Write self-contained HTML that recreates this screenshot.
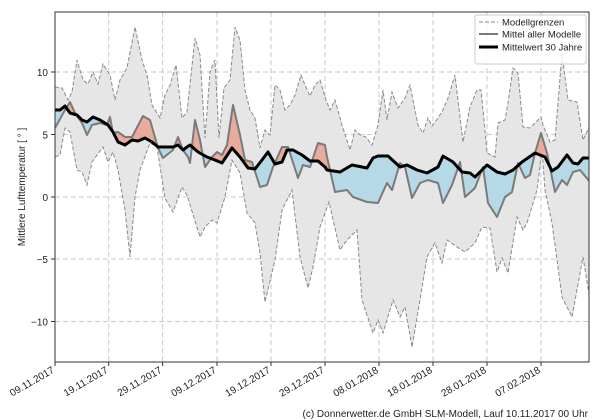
<!DOCTYPE html>
<html><head><meta charset="utf-8"><style>
html,body{margin:0;padding:0;background:#fff;}
svg{display:block;font-family:"Liberation Sans","DejaVu Sans",sans-serif;}
</style></head><body>
<svg width="600" height="420" viewBox="0 0 600 420" xmlns="http://www.w3.org/2000/svg">
<defs>
<clipPath id="plot"><rect x="55" y="12" width="534" height="350"/></clipPath>
<clipPath id="aboveBlack"><polygon id="pA" points="55,0 55,110 60,110 65,106 70,113 77,115 82,120 87,122 93,117 100,120 108,125 113,132 118,142 125,145 132,140 138,141 145,138 152,142 158,147 165,147 173,147 178,145 183,150 187,147 190,145 198,152 207,157 215,160 222,163 232,148 240,157 248,168 255,169 262,160 268,152 275,164 282,162 287,150 293,150 302,155 310,161 318,161 325,167 327,170 340,172 352,165 367,168 373,158 378,156 388,156 400,167 407,165 417,170 427,173 438,167 443,156 453,162 462,172 470,173 475,177 487,165 497,172 505,174 513,170 522,162 535,153 545,157 552,171 558,167 567,155 573,163 578,164 583,158 590,158 590,0"/></clipPath>
<clipPath id="belowBlack"><polygon points="55,420 55,110 60,110 65,106 70,113 77,115 82,120 87,122 93,117 100,120 108,125 113,132 118,142 125,145 132,140 138,141 145,138 152,142 158,147 165,147 173,147 178,145 183,150 187,147 190,145 198,152 207,157 215,160 222,163 232,148 240,157 248,168 255,169 262,160 268,152 275,164 282,162 287,150 293,150 302,155 310,161 318,161 325,167 327,170 340,172 352,165 367,168 373,158 378,156 388,156 400,167 407,165 417,170 427,173 438,167 443,156 453,162 462,172 470,173 475,177 487,165 497,172 505,174 513,170 522,162 535,153 545,157 552,171 558,167 567,155 573,163 578,164 583,158 590,158 590,420"/></clipPath>
</defs>

<!-- grid -->
<g stroke="#c8c8c8" stroke-width="1" stroke-dasharray="5,3">
<line x1="55" y1="72" x2="589" y2="72"/><line x1="55" y1="134.5" x2="589" y2="134.5"/><line x1="55" y1="197" x2="589" y2="197"/><line x1="55" y1="259" x2="589" y2="259"/><line x1="55" y1="321.5" x2="589" y2="321.5"/>
<line x1="108.7" y1="12" x2="108.7" y2="362"/><line x1="162.6" y1="12" x2="162.6" y2="362"/><line x1="217" y1="12" x2="217" y2="362"/><line x1="271" y1="12" x2="271" y2="362"/><line x1="325" y1="12" x2="325" y2="362"/><line x1="379" y1="12" x2="379" y2="362"/><line x1="433" y1="12" x2="433" y2="362"/><line x1="487" y1="12" x2="487" y2="362"/><line x1="541" y1="12" x2="541" y2="362"/>
</g>

<g clip-path="url(#plot)">
<!-- band -->
<polygon fill="#e3e3e3" fill-opacity="0.9" points="55,87 62,88 68,100 72,92 77,60 83,80 88,84 93,72 98,84 103,64 110,75 115,100 120,80 127,68 135,27 142,60 147,75 152,105 160,118 165,95 170,85 176,65 182,118 187,112 195,38 200,55 205,138 210,72 215,60 219,138 224,88 230,80 235,27 240,40 245,90 250,110 255,118 260,148 265,130 270,135 275,85 280,90 285,110 290,105 295,95 301,75 305,85 310,96 315,85 320,80 326,100 330,110 335,100 342,125 350,150 355,130 360,135 366,137 372,145 378,125 383,90 387,120 392,92 398,108 405,98 410,85 418,125 423,133 428,118 432,126 438,118 443,110 448,98 455,75 463,142 470,107 477,90 481,90 484,120 487,153 495,157 498,123 505,120 508,103 513,68 518,73 523,127 530,128 535,123 541,117 543,125 550,142 555,140 562,53 568,100 577,102 583,140 590,125 590,300 583,257 572,317 562,297 552,223 545,190 542,150 537,190 527,223 523,230 517,217 508,273 502,258 497,272 490,228 482,227 475,243 465,252 457,247 447,240 442,263 435,243 427,257 420,300 412,347 405,307 400,317 393,300 383,333 378,320 373,333 362,300 357,230 347,240 340,250 329,202 320,227 313,267 308,288 300,257 292,190 282,210 275,260 265,302 260,253 255,223 247,213 240,173 232,160 225,197 217,223 212,220 205,227 200,237 187,195 182,187 173,212 165,198 157,147 150,143 140,170 135,197 130,257 125,210 118,170 113,152 108,162 103,147 92,162 87,185 82,172 77,170 70,132 65,128 60,155 55,157"/>
<!-- dashed bounds -->
<polyline fill="none" stroke="#8a8a8a" stroke-width="1" stroke-dasharray="4,2" points="55,87 62,88 68,100 72,92 77,60 83,80 88,84 93,72 98,84 103,64 110,75 115,100 120,80 127,68 135,27 142,60 147,75 152,105 160,118 165,95 170,85 176,65 182,118 187,112 195,38 200,55 205,138 210,72 215,60 219,138 224,88 230,80 235,27 240,40 245,90 250,110 255,118 260,148 265,130 270,135 275,85 280,90 285,110 290,105 295,95 301,75 305,85 310,96 315,85 320,80 326,100 330,110 335,100 342,125 350,150 355,130 360,135 366,137 372,145 378,125 383,90 387,120 392,92 398,108 405,98 410,85 418,125 423,133 428,118 432,126 438,118 443,110 448,98 455,75 463,142 470,107 477,90 481,90 484,120 487,153 495,157 498,123 505,120 508,103 513,68 518,73 523,127 530,128 535,123 541,117 543,125 550,142 555,140 562,53 568,100 577,102 583,140 590,125"/>
<polyline fill="none" stroke="#8a8a8a" stroke-width="1" stroke-dasharray="4,2" points="55,157 60,155 65,128 70,132 77,170 82,172 87,185 92,162 103,147 108,162 113,152 118,170 125,210 130,257 135,197 140,170 150,143 157,147 165,198 173,212 182,187 187,195 200,237 205,227 212,220 217,223 225,197 232,160 240,173 247,213 255,223 260,253 265,302 275,260 282,210 292,190 300,257 308,288 313,267 320,227 329,202 340,250 347,240 357,230 362,300 373,333 378,320 383,333 393,300 400,317 405,307 412,347 420,300 427,257 435,243 442,263 447,240 457,247 465,252 475,243 482,227 490,228 497,272 502,258 508,273 517,217 523,230 527,223 537,190 542,150 545,190 552,223 562,297 572,317 583,257 590,300"/>

<!-- red fill: below gray line, above black -->
<polygon clip-path="url(#aboveBlack)" fill="#e9ab9b" points="55,420 55,128 65,110 70,102 75,113 82,123 87,135 92,125 100,123 107,125 110,117 113,133 118,132 125,137 132,137 143,116 150,120 158,148 163,158 173,150 178,137 183,150 188,157 190,163 195,120 200,140 205,167 212,157 217,152 222,155 227,145 233,105 240,135 245,160 252,162 260,187 267,185 273,167 282,147 288,147 298,178 303,165 310,167 318,143 325,145 327,157 335,192 347,190 353,197 367,202 378,203 387,183 392,190 400,163 405,167 412,198 420,183 428,180 438,183 443,203 452,185 460,162 465,197 475,188 483,167 488,203 497,217 505,197 512,192 518,163 525,178 530,175 535,153 541,133 547,153 555,192 562,180 567,185 573,172 580,170 590,182 590,420"/>
<!-- blue fill -->
<polygon clip-path="url(#belowBlack)" fill="#b6d9e8" points="55,0 55,128 65,110 70,102 75,113 82,123 87,135 92,125 100,123 107,125 110,117 113,133 118,132 125,137 132,137 143,116 150,120 158,148 163,158 173,150 178,137 183,150 188,157 190,163 195,120 200,140 205,167 212,157 217,152 222,155 227,145 233,105 240,135 245,160 252,162 260,187 267,185 273,167 282,147 288,147 298,178 303,165 310,167 318,143 325,145 327,157 335,192 347,190 353,197 367,202 378,203 387,183 392,190 400,163 405,167 412,198 420,183 428,180 438,183 443,203 452,185 460,162 465,197 475,188 483,167 488,203 497,217 505,197 512,192 518,163 525,178 530,175 535,153 541,133 547,153 555,192 562,180 567,185 573,172 580,170 590,182 590,0"/>

<!-- model mean -->
<polyline fill="none" stroke="#7a7a7a" stroke-width="2" stroke-linejoin="round" points="55,128 65,110 70,102 75,113 82,123 87,135 92,125 100,123 107,125 110,117 113,133 118,132 125,137 132,137 143,116 150,120 158,148 163,158 173,150 178,137 183,150 188,157 190,163 195,120 200,140 205,167 212,157 217,152 222,155 227,145 233,105 240,135 245,160 252,162 260,187 267,185 273,167 282,147 288,147 298,178 303,165 310,167 318,143 325,145 327,157 335,192 347,190 353,197 367,202 378,203 387,183 392,190 400,163 405,167 412,198 420,183 428,180 438,183 443,203 452,185 460,162 465,197 475,188 483,167 488,203 497,217 505,197 512,192 518,163 525,178 530,175 535,153 541,133 547,153 555,192 562,180 567,185 573,172 580,170 590,182"/>
<!-- 30 year mean -->
<polyline fill="none" stroke="#000" stroke-width="3" stroke-linejoin="round" points="55,110 60,110 65,106 70,113 77,115 82,120 87,122 93,117 100,120 108,125 113,132 118,142 125,145 132,140 138,141 145,138 152,142 158,147 165,147 173,147 178,145 183,150 187,147 190,145 198,152 207,157 215,160 222,163 232,148 240,157 248,168 255,169 262,160 268,152 275,164 282,162 287,150 293,150 302,155 310,161 318,161 325,167 327,170 340,172 352,165 367,168 373,158 378,156 388,156 400,167 407,165 417,170 427,173 438,167 443,156 453,162 462,172 470,173 475,177 487,165 497,172 505,174 513,170 522,162 535,153 545,157 552,171 558,167 567,155 573,163 578,164 583,158 590,158"/>
</g>

<!-- axes frame -->
<rect x="55" y="12" width="534" height="350" fill="none" stroke="#333" stroke-width="1"/>
<g stroke="#333">
<line x1="51" y1="72" x2="55" y2="72"/><line x1="51" y1="134.5" x2="55" y2="134.5"/><line x1="51" y1="197" x2="55" y2="197"/><line x1="51" y1="259" x2="55" y2="259"/><line x1="51" y1="321.5" x2="55" y2="321.5"/>
<line x1="55" y1="362" x2="55" y2="366"/><line x1="108.7" y1="362" x2="108.7" y2="366"/><line x1="162.6" y1="362" x2="162.6" y2="366"/><line x1="217" y1="362" x2="217" y2="366"/><line x1="271" y1="362" x2="271" y2="366"/><line x1="325" y1="362" x2="325" y2="366"/><line x1="379" y1="362" x2="379" y2="366"/><line x1="433" y1="362" x2="433" y2="366"/><line x1="487" y1="362" x2="487" y2="366"/><line x1="541" y1="362" x2="541" y2="366"/>
</g>
<g font-size="10" fill="#222" text-anchor="end">
<text x="48" y="76">10</text><text x="48" y="138.5">5</text><text x="48" y="201">0</text><text x="48" y="263">−5</text><text x="48" y="325.5">−10</text>
</g>
<text transform="translate(25,187) rotate(-90)" font-size="10" fill="#222" text-anchor="middle">Mittlere Lufttemperatur [ ° ]</text>
<g font-size="10" fill="#222" text-anchor="end">
<text transform="translate(55,372) rotate(-30)">09.11.2017</text>
<text transform="translate(108.7,372) rotate(-30)">19.11.2017</text>
<text transform="translate(162.6,372) rotate(-30)">29.11.2017</text>
<text transform="translate(217,372) rotate(-30)">09.12.2017</text>
<text transform="translate(271,372) rotate(-30)">19.12.2017</text>
<text transform="translate(325,372) rotate(-30)">29.12.2017</text>
<text transform="translate(379,372) rotate(-30)">08.01.2018</text>
<text transform="translate(433,372) rotate(-30)">18.01.2018</text>
<text transform="translate(487,372) rotate(-30)">28.01.2018</text>
<text transform="translate(541,372) rotate(-30)">07.02.2018</text>
</g>
<text x="588" y="417" font-size="10" fill="#222" text-anchor="end">(c) Donnerwetter.de GmbH SLM-Modell, Lauf 10.11.2017 00 Uhr</text>

<!-- legend -->
<rect x="475" y="15" width="111" height="49" rx="2" fill="#fff" fill-opacity="0.85" stroke="#ccc"/>
<line x1="479" y1="22" x2="498" y2="22" stroke="#8a8a8a" stroke-dasharray="4,2"/>
<line x1="479" y1="34" x2="498" y2="34" stroke="#7a7a7a" stroke-width="2"/>
<line x1="479" y1="47" x2="498" y2="47" stroke="#000" stroke-width="3"/>
<g font-size="9.5" fill="#222">
<text x="502" y="25.5">Modellgrenzen</text>
<text x="502" y="37.5">Mittel aller Modelle</text>
<text x="502" y="50.5">Mittelwert 30 Jahre</text>
</g>
</svg>
</body></html>
